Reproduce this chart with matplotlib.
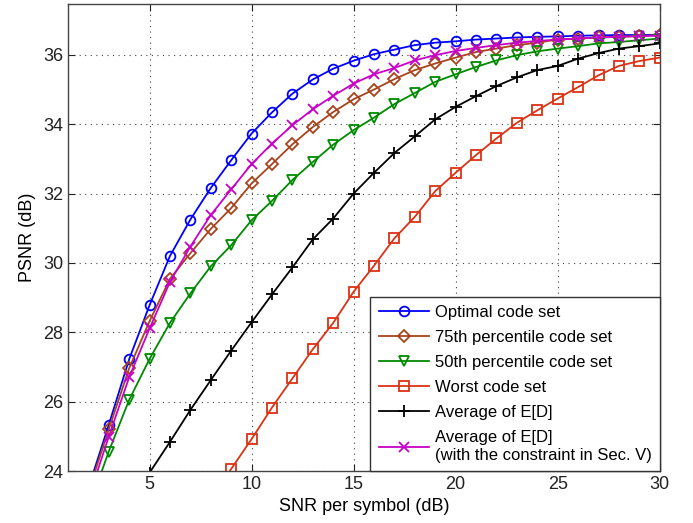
import matplotlib
matplotlib.use("Agg")
import matplotlib.pyplot as plt

plt.rcParams['font.family'] = ['Liberation Sans', 'DejaVu Sans']

snr = list(range(2, 31))

optimal = [23.5, 25.33, 27.22, 28.78, 30.2, 31.25, 32.16, 32.96, 33.73, 34.34, 34.88, 35.29, 35.6,
           35.83, 36.02, 36.15, 36.28, 36.35, 36.39, 36.44, 36.47, 36.5, 36.52, 36.53, 36.55,
           36.56, 36.57, 36.57, 36.58]
p75 = [23.4, 25.2, 26.96, 28.32, 29.54, 30.28, 30.98, 31.58, 32.29, 32.85, 33.42, 33.92, 34.35,
       34.72, 35.0, 35.3, 35.56, 35.75, 35.92, 36.08, 36.18, 36.28, 36.35, 36.44, 36.47,
       36.5, 36.52, 36.54, 36.57]
p50 = [22.9, 24.56, 26.05, 27.23, 28.27, 29.12, 29.9, 30.51, 31.23, 31.79, 32.39, 32.91, 33.41,
       33.83, 34.19, 34.58, 34.9, 35.22, 35.44, 35.65, 35.84, 35.99, 36.1, 36.18, 36.25,
       36.33, 36.37, 36.42, 36.47]
worst = [18.5, 19.4, 20.3, 21.2, 22.1, 22.6, 23.2, 24.06, 24.92, 25.83, 26.67, 27.51, 28.27,
         29.17, 29.92, 30.71, 31.33, 32.07, 32.6, 33.11, 33.59, 34.04, 34.4, 34.74, 35.07,
         35.41, 35.68, 35.82, 35.92]
avg_ed = [21.4, 22.3, 23.1, 23.95, 24.84, 25.76, 26.62, 27.47, 28.29, 29.09, 29.87, 30.68, 31.28,
          32.0, 32.6, 33.17, 33.65, 34.14, 34.5, 34.81, 35.1, 35.35, 35.56, 35.68, 35.89,
          36.05, 36.18, 36.25, 36.33]
avg_ed_c = [23.2, 24.99, 26.7, 28.11, 29.45, 30.47, 31.38, 32.12, 32.85, 33.44, 33.97, 34.43, 34.82,
            35.17, 35.44, 35.62, 35.84, 35.99, 36.11, 36.2, 36.28, 36.35, 36.4, 36.44, 36.47,
            36.5, 36.52, 36.54, 36.55]

labels = ["Optimal code set", "75th percentile code set", "50th percentile code set",
          "Worst code set", "Average of E[D]",
          "Average of E[D]\n(with the constraint in Sec. V)"]

x_ticks = [5, 10, 15, 20, 25, 30]
y_ticks = [24, 26, 28, 30, 32, 34, 36]

fig = plt.figure(figsize=(6.93, 5.23), dpi=100)
ax = fig.add_axes([0.098, 0.0994, 0.854, 0.8926])

styles = [
    (optimal, '#0000ff', 'o', 7),
    (p75, '#a8431c', 'D', 6),
    (p50, '#008a00', 'v', 7.5),
    (worst, '#dc3214', 's', 6.5),
    (avg_ed, '#000000', '+', 9),
    (avg_ed_c, '#c800c8', 'x', 6.5),
]

for (ys, col, mk, ms), lab in zip(styles, labels):
    ax.plot(snr, ys, color=col, marker=mk, markersize=ms, markerfacecolor='none',
            markeredgecolor=col, markeredgewidth=1.3, linewidth=1.3, label=lab)

ax.set_xlim(1, 30)
ax.set_ylim(24, 37.46)
ax.set_xticks(x_ticks)
ax.set_yticks(y_ticks)
ax.tick_params(direction='in', top=True, right=True, length=5, labelsize=13, colors='#222222')
for sp in ax.spines.values():
    sp.set_color('#444444')
    sp.set_linewidth(1.0)
ax.grid(True, color='#444444', linestyle=(0, (1, 4)), linewidth=0.8)

ax.set_xlabel("SNR per symbol (dB)", fontsize=13, labelpad=4)
ax.set_ylabel("PSNR (dB)", fontsize=13, labelpad=5)

leg = ax.legend(loc='lower right', bbox_to_anchor=(1, 0), borderaxespad=0, fontsize=12,
                handlelength=3.0, handletextpad=0.35, labelspacing=0.6, fancybox=False,
                framealpha=1, edgecolor='#333333', borderpad=0.5)
leg.get_frame().set_linewidth(1.0)

fig.savefig("out.png", dpi=100)
